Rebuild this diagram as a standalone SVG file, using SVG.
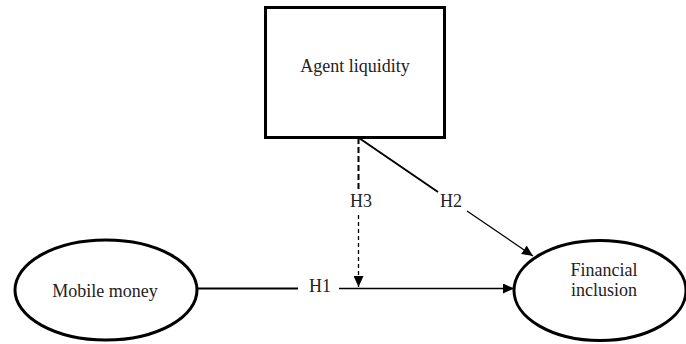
<svg xmlns="http://www.w3.org/2000/svg" width="686" height="344" viewBox="0 0 686 344">
<style>
.node{fill:#fff;stroke:#000;stroke-width:3}
.lbl{font-family:"Liberation Serif","Times New Roman",serif;font-size:18px;fill:#222;text-anchor:middle}
.conn{fill:none;stroke:#000}
</style>
<defs>
<marker id="arr" markerUnits="userSpaceOnUse" markerWidth="12" markerHeight="10" refX="11" refY="5" orient="auto">
<path d="M0,0 L11,5 L0,10 Z" fill="#000"/>
</marker>
</defs>
<rect width="686" height="344" fill="#fff"/>
<g id="connectors">
<line class="conn" x1="197" y1="288.5" x2="298" y2="288.5" stroke-width="2.2"/>
<line class="conn" x1="339" y1="288.5" x2="514" y2="288.5" stroke-width="1.3" marker-end="url(#arr)"/>
<line class="conn" x1="358.5" y1="138" x2="358.5" y2="190" stroke-width="2" stroke-dasharray="6,3"/>
<line class="conn" x1="358.5" y1="215" x2="358.5" y2="287" stroke-width="1.3" stroke-dasharray="4,3" marker-end="url(#arr)"/>
<line class="conn" x1="359" y1="138" x2="438" y2="192" stroke-width="2"/>
<line class="conn" x1="467" y1="211" x2="533" y2="256" stroke-width="1.2" marker-end="url(#arr)"/>
<text class="lbl" x="320" y="292">H1</text>
<text class="lbl" x="361" y="207">H3</text>
<text class="lbl" x="451" y="207">H2</text>
</g>
<g id="agent-liquidity">
<rect class="node" x="265.5" y="7.5" width="179" height="130"/>
<text class="lbl" x="355" y="72">Agent liquidity</text>
</g>
<g id="mobile-money">
<ellipse class="node" cx="106" cy="290" rx="91" ry="50"/>
<text class="lbl" x="105" y="297">Mobile money</text>
</g>
<g id="financial-inclusion">
<ellipse class="node" cx="600" cy="290.5" rx="86" ry="50"/>
<text class="lbl" x="604" y="276">Financial</text>
<text class="lbl" x="604" y="296">inclusion</text>
</g>
</svg>
